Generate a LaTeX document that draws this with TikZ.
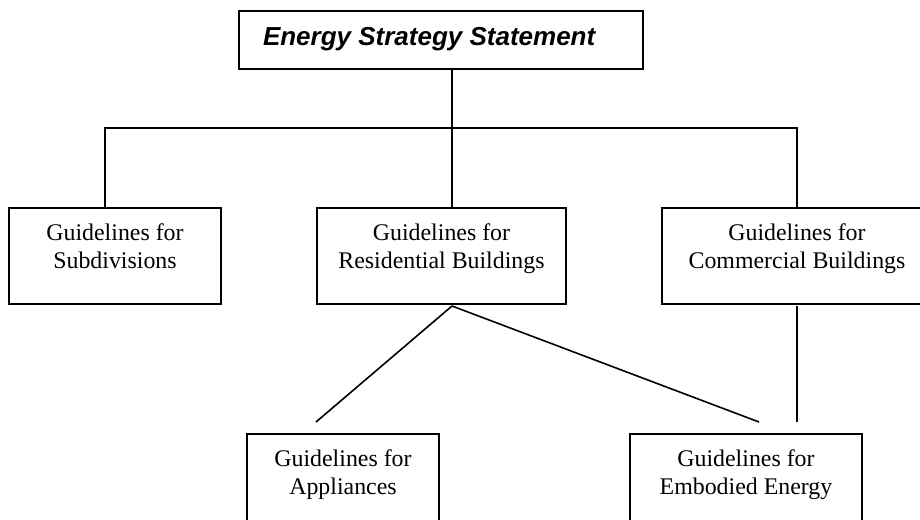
\documentclass[tikz,border=0pt]{standalone}
\usepackage{fontspec}
\setmainfont{Liberation Serif}
\newfontfamily\headfont{Liberation Sans}
\usetikzlibrary{shapes,arrows}

\begin{document}
\begin{tikzpicture}[auto, x=0.75pt, y=-0.75pt,
    block_title/.style ={rectangle, draw=black, line width=1.2pt, fill=white,
      text width=267pt, align=flush left, inner xsep=18pt, inner ysep=11.25pt,
      text height=15pt, text depth=6pt, anchor=north,
      font=\headfont\bfseries\itshape\fontsize{19.5}{23}\selectfont},
    block_guide/.style ={rectangle, draw=black, line width=1.2pt, fill=white,
      align=flush center, inner xsep=0pt, inner ysep=0pt,
      text height=24.75pt, text depth=47.25pt, anchor=north,
      font=\fontsize{17.9}{21}\selectfont},
    line/.style ={draw, line width=1.2pt}]
  \useasboundingbox (0,0) rectangle (920,520);
  % row 1
  \node [block_title] (statement) at (441,10) {Energy Strategy Statement};
  % row 2
  \node [block_guide, text width=159pt] (subdivisions) at (115,207)
    {Guidelines for\\Subdivisions};
  \node [block_guide, text width=186.75pt] (residential) at (441.5,207)
    {Guidelines for\\Residential Buildings};
  \node [block_guide, text width=202.5pt] (commercial) at (797,207)
    {Guidelines for\\Commercial Buildings};
  % row 3
  \node [block_guide, text width=144pt] (appliances) at (343,433)
    {Guidelines for\\Appliances};
  \node [block_guide, text width=174pt] (embodied) at (746,433)
    {Guidelines for\\Embodied Energy};
  % loose ends of the connectors
  \coordinate (hub) at (452,128);
  \coordinate (bus_left) at (105,128);
  \coordinate (fan) at (452,306);
  \coordinate (appliances_tip) at (316,422);
  \coordinate (embodied_tip) at (759,422);
  \coordinate (commercial_foot) at (797,306);
  \coordinate (commercial_tip) at (797,422);
  % connecting nodes with paths
  \begin{scope}[every path/.style=line]
    \path (statement.south -| hub) -- (hub);
    \path (subdivisions.north -| bus_left) |- (hub) -| (commercial.north);
    \path (hub) -- (residential.north -| hub);
    \path (fan) -- (appliances_tip);
    \path (fan) -- (embodied_tip);
    \path (commercial_foot) -- (commercial_tip);
  \end{scope}
\end{tikzpicture}
\end{document}
